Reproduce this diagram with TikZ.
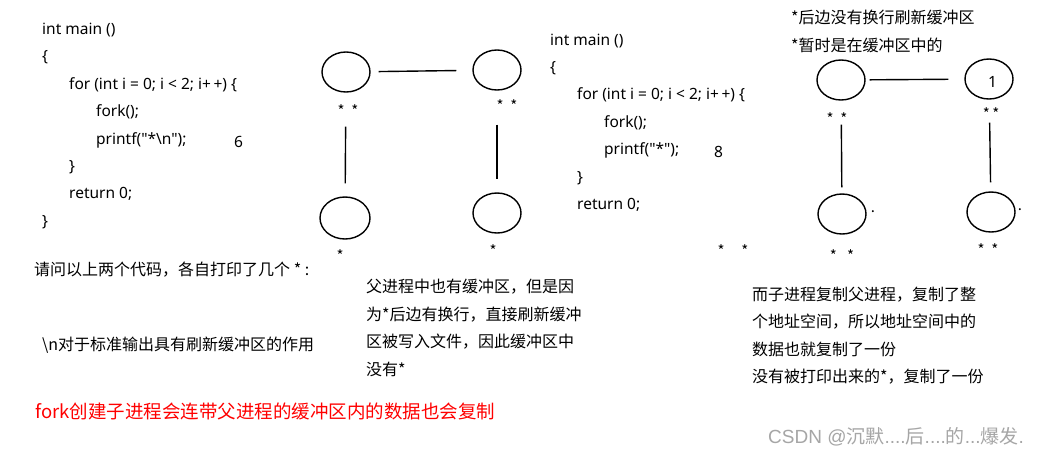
\documentclass[tikz,border=0pt]{standalone}
\usepackage{fontspec}
\setmainfont{Noto Sans CJK SC}
\newfontfamily\codefont{Noto Sans}
\newfontfamily\markfont{Liberation Sans}
\usetikzlibrary{shapes.geometric}
\tikzset{
  proc/.style={draw, ellipse, line width=1.4pt, minimum width=48pt, minimum height=40pt, inner sep=0pt},
  link/.style={line width=1.4pt},
  txt/.style={anchor=west, inner sep=0pt, align=left, font=\fontsize{16}{27.4}\selectfont},
  code/.style={txt, font=\codefont\fontsize{15.5}{27.4}\selectfont},
  stars/.style={inner sep=0pt, font=\fontsize{15}{15}\selectfont},
}
\newcommand{\ind}{\hspace*{27pt}}
\begin{document}
\begin{tikzpicture}[x=1pt,y=-1pt]
\useasboundingbox[fill=white] (0,0) rectangle (1046,456);
% first program, printf with newline
\node[code] (codea) at (42,126) {int main ()\\
\{\\
\ind for (int i = 0; i < 2; i+\,+) \{\\
\ind\ind fork();\\
\ind\ind printf("*\textbackslash n");\\
\ind \}\\
\ind return 0;\\
\}};
\node[code] (sixa) at (234,142) {6};
% second program, printf without newline
\node[code] (codeb) at (550,122.5) {int main ()\\
\{\\
\ind for (int i = 0; i < 2; i+\,+) \{\\
\ind\ind fork();\\
\ind\ind printf("*");\\
\ind \}\\
\ind return 0;};
\node[code] (eightb) at (714,152) {8};
% process tree, first program
\node[proc] (pa1) at (346,72) {};
\node[proc] (pa2) at (497,70) {};
\node[proc, minimum width=50pt, minimum height=42pt] (pa3) at (345,218) {};
\node[proc] (pa4) at (497,213) {};
\draw[link, shorten <=8pt, shorten >=16pt] (pa1) -- (pa2);
\draw[link, shorten <=34pt, shorten >=13pt] (pa1) -- (pa3);
\draw[link, shorten <=34pt, shorten >=13pt] (pa2) -- (pa4);
\node[stars] (sa1) at (348,111) {*\ \ *};
\node[stars] (sa2) at (507,106) {*\ \ *};
\node[stars] (sa3) at (340,256) {*};
\node[stars] (sa4) at (493,251) {*};
% process tree, second program
\node[proc] (pb1) at (841,80) {};
\node[proc] (pb2) at (989,79) {};
\node[proc] (pb3) at (842,214) {};
\node[proc] (pb4) at (991,212) {};
\node[code] (one) at (988,82) {1};
\node[stars] (dot3) at (873,212) {.};
\node[stars] (dot4) at (1020,210) {.};
\draw[link, shorten <=4pt, shorten >=16pt] (pb1) -- (pb2);
\draw[link, shorten <=24pt, shorten >=6pt] (pb1) -- (pb3);
\draw[link, shorten <=23pt, shorten >=9pt] (pb2) -- (pb4);
\node[stars] (sb1) at (837,119) {*\ \ *};
\node[stars] (sb2) at (991,114) {*\,*};
\node[stars] (sb3) at (842,256) {*\ \ \ *};
\node[stars] (sb4) at (988,250) {*\ \ *};
\node[stars] (sb5) at (733,251) {*\ \ \ \ \ *};
% notes
\node[txt, font=\fontsize{16}{28}\selectfont] (notetop) at (791,31) {*后边没有换行刷新缓冲区\\*暂时是在缓冲区中的};
\node[txt] (question) at (34,270) {请问以上两个代码，各自打印了几个 * :};
\node[txt] (newline) at (42,345) {\textbackslash n对于标准输出具有刷新缓冲区的作用};
\node[txt] (notemid) at (366,328) {父进程中也有缓冲区，但是因\\为*后边有换行，直接刷新缓冲\\区被写入文件，因此缓冲区中\\没有*};
\node[txt] (noteright) at (752,335.5) {而子进程复制父进程，复制了整\\个地址空间，所以地址空间中的\\数据也就复制了一份\\没有被打印出来的*，复制了一份};
\node[txt, text=red, font=\fontsize{18.5}{20}\selectfont] (summary) at (35,411) {fork创建子进程会连带父进程的缓冲区内的数据也会复制};
\node[txt, text=black!35, font=\fontsize{19}{20}\selectfont] (mark) at (768,437) {{\markfont CSDN @}沉默{\markfont ....}后{\markfont ....}的{\markfont ...}爆发{\markfont .}};
\end{tikzpicture}
\end{document}
